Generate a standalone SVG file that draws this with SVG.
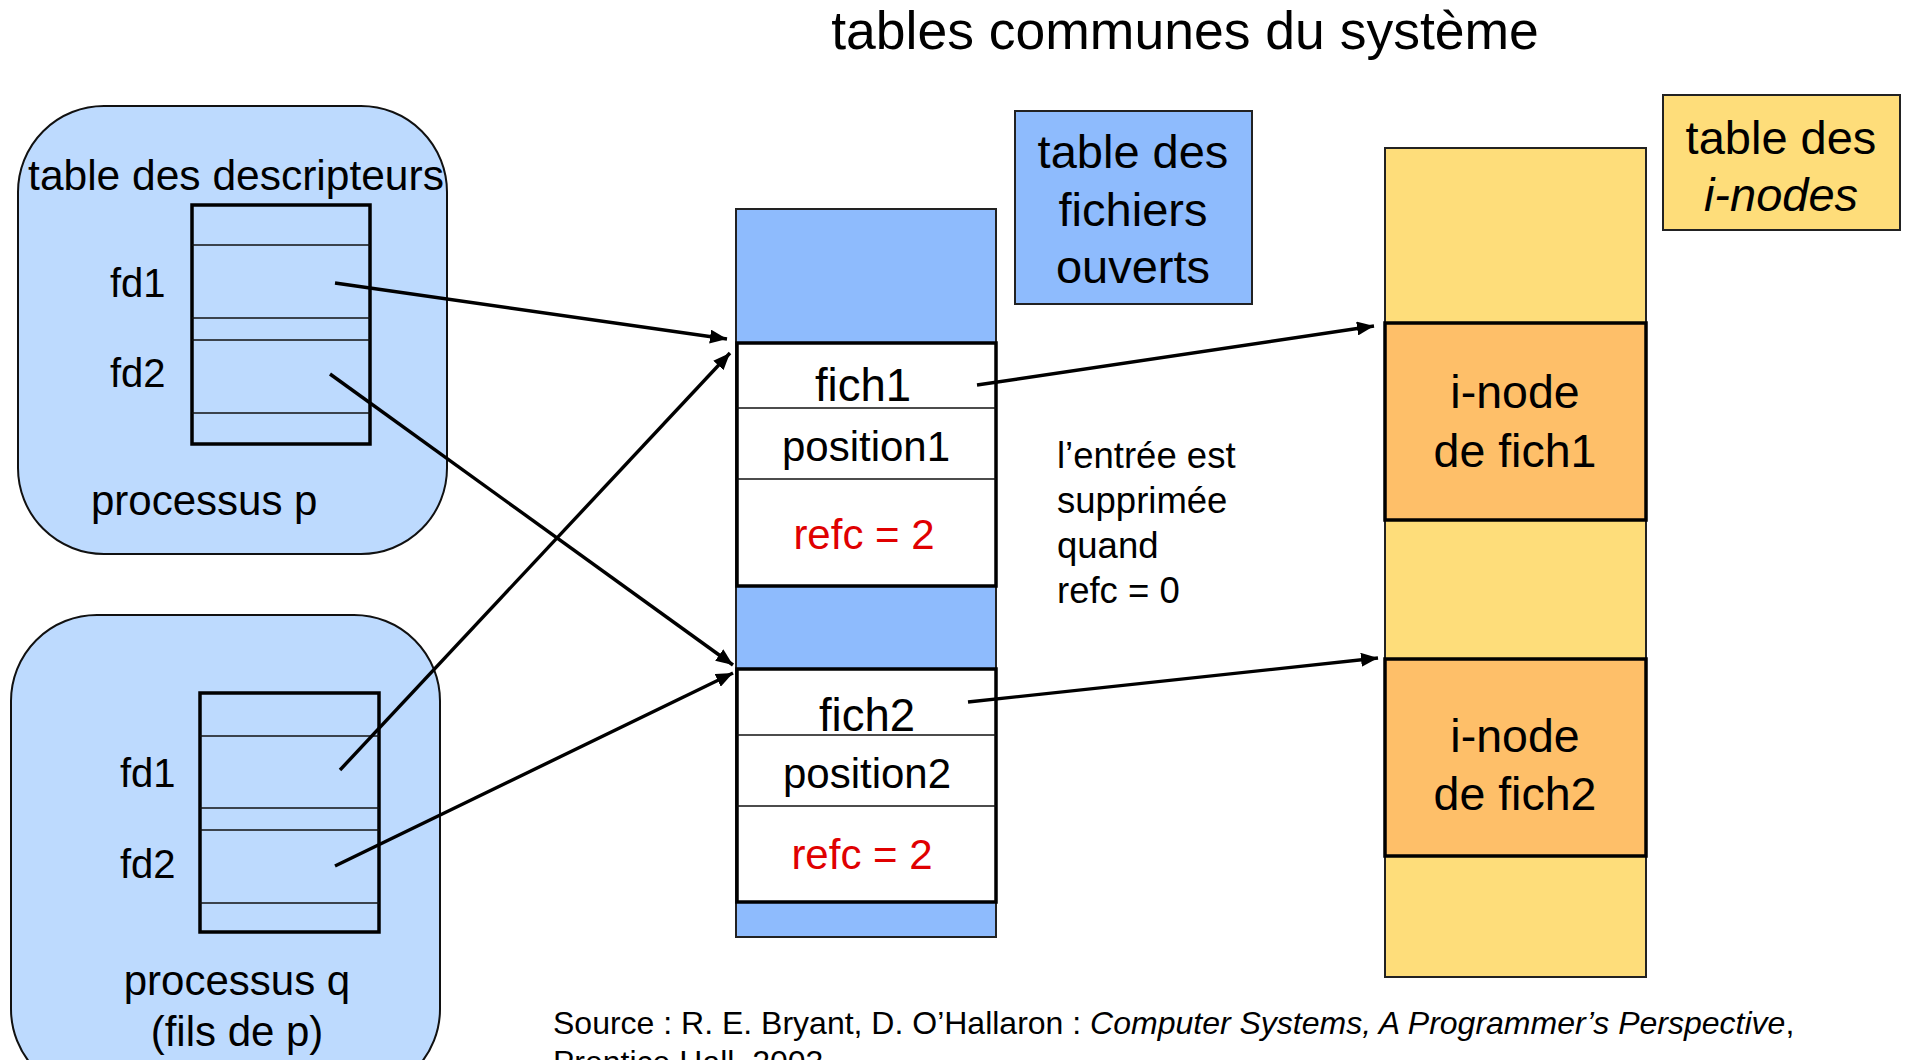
<svg xmlns="http://www.w3.org/2000/svg" width="1910" height="1060" viewBox="0 0 1910 1060">
<defs>
<style>
text{font-family:"Liberation Sans",Arial,Helvetica,sans-serif;fill:#000}
.proc{fill:#BDDAFE;stroke:#111;stroke-width:2}
.fdt{fill:none;stroke:#000;stroke-width:3.5}
.row{stroke:#111;stroke-width:1.6}
.blue{fill:#8EBBFD;stroke:#222;stroke-width:2}
.yel{fill:#FEDD7A;stroke:#222;stroke-width:2}
.ent{fill:#fff;stroke:#000;stroke-width:3.5}
.ino{fill:#FEBF69;stroke:#000;stroke-width:3.5}
.conn{stroke:#000;stroke-width:3.4;fill:none;marker-end:url(#ah)}
.red{fill:#E00000}
</style>
<marker id="ah" markerUnits="userSpaceOnUse" markerWidth="18" markerHeight="14" refX="17" refY="7" orient="auto">
<path d="M0,0 L17,7 L0,14 z" fill="#000"/>
</marker>
</defs>
<rect width="1910" height="1060" fill="#fff"/>

<g id="title">
<text x="1185" y="49" font-size="53.5" text-anchor="middle">tables communes du système</text>
</g>

<g id="process-p">
<rect class="proc" x="18" y="106" width="429" height="448" rx="86" ry="86"/>
<text x="236" y="190" font-size="42.5" text-anchor="middle">table des descripteurs</text>
<rect class="fdt" x="192" y="205" width="178" height="239"/>
<line class="row" x1="192" y1="245" x2="370" y2="245"/>
<line class="row" x1="192" y1="318" x2="370" y2="318"/>
<line class="row" x1="192" y1="340" x2="370" y2="340"/>
<line class="row" x1="192" y1="413" x2="370" y2="413"/>
<text x="110" y="297" font-size="40">fd1</text>
<text x="110" y="387" font-size="40">fd2</text>
<text x="91" y="515" font-size="42">processus p</text>
</g>

<g id="process-q">
<rect class="proc" x="11" y="615" width="429" height="480" rx="86" ry="86"/>
<rect class="fdt" x="200" y="693" width="179" height="239"/>
<line class="row" x1="200" y1="736" x2="379" y2="736"/>
<line class="row" x1="200" y1="808" x2="379" y2="808"/>
<line class="row" x1="200" y1="830" x2="379" y2="830"/>
<line class="row" x1="200" y1="903" x2="379" y2="903"/>
<text x="120" y="787" font-size="40">fd1</text>
<text x="120" y="878" font-size="40">fd2</text>
<text x="237" y="995" font-size="42" text-anchor="middle">processus q</text>
<text x="237" y="1046" font-size="42" text-anchor="middle">(fils de p)</text>
</g>

<g id="open-files-table">
<rect class="blue" x="736" y="209" width="260" height="728"/>
<rect class="ent" x="737" y="343" width="259" height="243"/>
<line class="row" x1="737" y1="408" x2="996" y2="408"/>
<line class="row" x1="737" y1="479" x2="996" y2="479"/>
<text x="863" y="401" font-size="45.5" text-anchor="middle">fich1</text>
<text x="866" y="461" font-size="42" text-anchor="middle">position1</text>
<text class="red" x="864" y="549" font-size="42" text-anchor="middle">refc = 2</text>
<rect class="ent" x="737" y="669" width="259" height="233"/>
<line class="row" x1="737" y1="735" x2="996" y2="735"/>
<line class="row" x1="737" y1="806" x2="996" y2="806"/>
<text x="867" y="731" font-size="45.5" text-anchor="middle">fich2</text>
<text x="867" y="788" font-size="42" text-anchor="middle">position2</text>
<text class="red" x="862" y="869" font-size="42" text-anchor="middle">refc = 2</text>
</g>

<g id="open-files-label">
<rect class="blue" x="1015" y="111" width="237" height="193"/>
<text x="1133" y="168" font-size="47" text-anchor="middle">table des</text>
<text x="1133" y="226" font-size="47" text-anchor="middle">fichiers</text>
<text x="1133" y="283" font-size="47" text-anchor="middle">ouverts</text>
</g>

<g id="note">
<text x="1057" y="468" font-size="36.5">l’entrée est</text>
<text x="1057" y="513" font-size="36.5">supprimée</text>
<text x="1057" y="558" font-size="36.5">quand</text>
<text x="1057" y="603" font-size="36.5">refc = 0</text>
</g>

<g id="inode-table">
<rect class="yel" x="1385" y="148" width="261" height="829"/>
<rect class="ino" x="1385" y="323" width="261" height="197"/>
<text x="1515" y="408" font-size="46.5" text-anchor="middle">i-node</text>
<text x="1515" y="467" font-size="46.5" text-anchor="middle">de fich1</text>
<rect class="ino" x="1385" y="659" width="261" height="197"/>
<text x="1515" y="752" font-size="46.5" text-anchor="middle">i-node</text>
<text x="1515" y="810" font-size="46.5" text-anchor="middle">de fich2</text>
</g>

<g id="inodes-label">
<rect class="yel" x="1663" y="95" width="237" height="135"/>
<text x="1781" y="154" font-size="47" text-anchor="middle">table des</text>
<text x="1781" y="211" font-size="47" text-anchor="middle" font-style="italic">i-nodes</text>
</g>

<g id="connectors">
<line class="conn" x1="335" y1="283" x2="727" y2="339"/>
<line class="conn" x1="330" y1="374" x2="733" y2="665"/>
<line class="conn" x1="340" y1="770" x2="730" y2="353"/>
<line class="conn" x1="335" y1="866" x2="733" y2="673"/>
<line class="conn" x1="977" y1="385" x2="1374" y2="326"/>
<line class="conn" x1="968" y1="702" x2="1378" y2="658"/>
</g>

<g id="footer">
<text x="553" y="1034" font-size="32">Source : R. E. Bryant, D. O’Hallaron : <tspan font-style="italic">Computer Systems, A Programmer’s Perspective</tspan>,</text>
<text x="553" y="1073" font-size="32">Prentice Hall, 2003</text>
</g>
</svg>
